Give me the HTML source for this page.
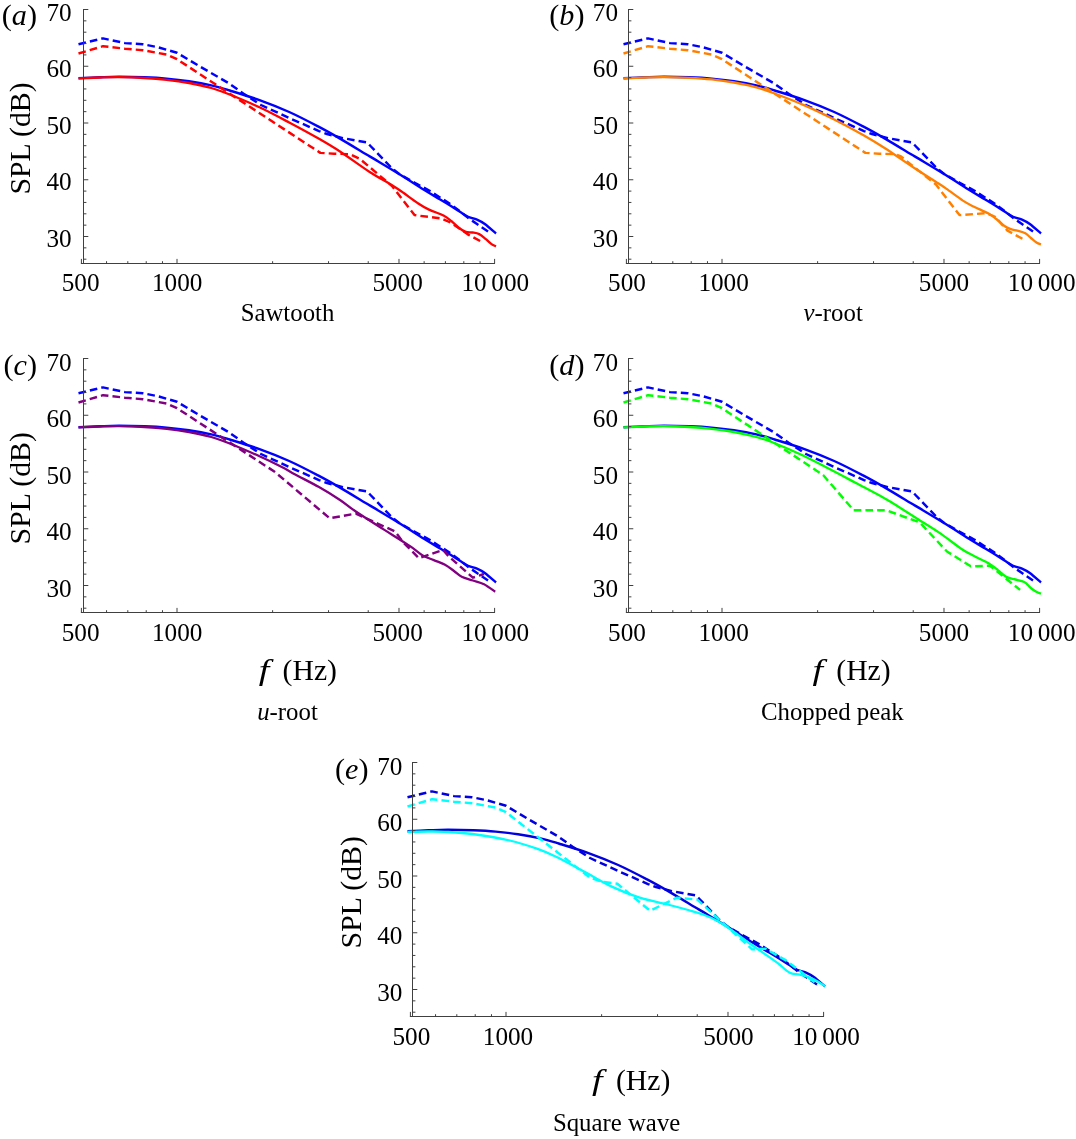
<!DOCTYPE html>
<html lang="en"><head><meta charset="utf-8"><title>SPL spectra</title>
<style>
html,body{margin:0;padding:0;background:#fff;}
svg{display:block;will-change:transform;}
text{font-family:"Liberation Serif","Times New Roman",Times,serif;fill:#000;}
.t{font-size:25.2px;}
.p{font-size:29.2px;}
.c{font-size:24.8px;}
</style></head><body>
<svg width="1076" height="1139" viewBox="0 0 1076 1139">
<rect width="1076" height="1139" fill="#fff"/>
<g transform="translate(0.00 0.00)">
<text class="t" x="71.60" y="21.00" text-anchor="end">70</text>
<text class="t" x="71.60" y="77.40" text-anchor="end">60</text>
<text class="t" x="71.60" y="133.90" text-anchor="end">50</text>
<text class="t" x="71.60" y="189.90" text-anchor="end">40</text>
<text class="t" x="71.60" y="246.80" text-anchor="end">30</text>
<text class="t" x="80.60" y="291.00" text-anchor="middle">500</text>
<text class="t" x="177.20" y="291.00" text-anchor="middle">1000</text>
<text class="t" x="397.60" y="291.00" text-anchor="middle">5000</text>
<text class="t" x="495.30" y="291.00" word-spacing="-1.6" text-anchor="middle">10 000</text>
<text class="p" transform="translate(37.00 25.20) scale(1.035 1)" text-anchor="end">(<tspan font-style="italic">a</tspan>)</text>
<text class="p" transform="translate(29.70 194.60) rotate(-90) scale(1.02 1)">SPL (dB)</text>
<path d="M78.50 44.20L103.00 38.40L125.00 43.10L142.90 44.30L157.00 47.00L177.00 52.80L200.00 66.50L229.70 83.80L244.60 94.40L261.00 105.00L289.20 118.00L319.00 131.10L327.00 134.00L342.80 138.10L367.00 142.50L370.00 145.50L392.00 168.30L399.50 174.30L414.30 182.50L429.20 190.60L448.00 202.50L456.90 209.00L468.10 217.90L477.00 224.00L489.30 232.40" stroke="#0000ff" stroke-width="2.45" stroke-dasharray="7.6 4.1" fill="none" stroke-linejoin="round"/>
<path d="M78.50 78.20C82.03 78.05 92.95 77.53 99.70 77.30C106.45 77.07 111.57 76.80 119.00 76.80C126.43 76.80 136.35 77.00 144.30 77.30C152.25 77.60 159.25 77.95 166.70 78.60C174.15 79.25 181.57 80.08 189.00 81.20C196.43 82.32 204.52 83.75 211.30 85.30C218.08 86.85 221.67 88.03 229.70 90.50C237.73 92.97 249.58 96.52 259.50 100.10C269.42 103.68 279.28 107.53 289.20 112.00C299.12 116.47 310.53 122.47 319.00 126.90C327.47 131.33 331.55 133.68 340.00 138.60C348.45 143.52 359.78 150.45 369.70 156.40C379.62 162.35 390.53 168.78 399.50 174.30C408.47 179.82 416.72 185.30 423.50 189.50C430.28 193.70 435.57 196.72 440.20 199.50C444.83 202.28 447.58 203.87 451.30 206.20C455.02 208.53 459.70 211.73 462.50 213.50C465.30 215.27 465.68 215.78 468.10 216.80C470.52 217.82 474.22 218.40 477.00 219.60C479.78 220.80 481.63 221.68 484.80 224.00C487.97 226.32 494.13 231.92 496.00 233.50" stroke="#0000ff" stroke-width="2.40" fill="none" stroke-linejoin="round"/>
<path d="M78.50 53.50L103.00 46.20L125.00 48.70L143.00 50.20L167.00 54.60L177.00 59.20L320.40 152.90L334.00 153.70L350.00 154.20L360.00 159.00L392.00 186.00L414.50 215.10L441.30 218.50L451.30 222.90L468.10 234.60L482.00 242.00" stroke="#ff0000" stroke-width="2.45" stroke-dasharray="7.6 4.1" fill="none" stroke-linejoin="round"/>
<path d="M78.50 78.30C82.03 78.17 92.95 77.68 99.70 77.50C106.45 77.32 111.57 77.12 119.00 77.20C126.43 77.28 136.35 77.57 144.30 78.00C152.25 78.43 159.25 78.97 166.70 79.80C174.15 80.63 181.57 81.63 189.00 83.00C196.43 84.37 204.52 86.08 211.30 88.00C218.08 89.92 221.67 91.28 229.70 94.50C237.73 97.72 249.58 102.63 259.50 107.30C269.42 111.97 279.28 117.25 289.20 122.50C299.12 127.75 310.53 133.97 319.00 138.80C327.47 143.63 331.55 145.97 340.00 151.50C348.45 157.03 361.37 166.58 369.70 172.00C378.03 177.42 384.75 180.80 390.00 184.00C395.25 187.20 396.55 188.00 401.20 191.20C405.85 194.40 413.27 200.13 417.90 203.20C422.53 206.27 424.73 207.55 429.00 209.60C433.27 211.65 439.78 213.60 443.50 215.50C447.22 217.40 448.70 218.92 451.30 221.00C453.90 223.08 456.68 226.18 459.10 228.00C461.52 229.82 463.57 231.15 465.80 231.90C468.03 232.65 470.27 232.13 472.50 232.50C474.73 232.87 476.97 233.00 479.20 234.10C481.43 235.20 483.85 237.43 485.90 239.10C487.95 240.77 489.82 242.88 491.50 244.10C493.18 245.32 495.25 246.02 496.00 246.40" stroke="#ff0000" stroke-width="2.30" fill="none" stroke-linejoin="round"/>
<path d="M83.50 9.00V264.00" stroke="#404040" stroke-width="1.0" fill="none"/>
<path d="M80.90 263.50H495.00" stroke="#404040" stroke-width="1.0" fill="none"/>
<path d="M83.50 259.20h2.90M83.50 247.85h2.90M83.50 236.50h4.80M83.50 225.15h2.90M83.50 213.80h2.90M83.50 202.45h2.90M83.50 191.10h2.90M83.50 179.75h4.80M83.50 168.40h2.90M83.50 157.05h2.90M83.50 145.70h2.90M83.50 134.35h2.90M83.50 123.00h4.80M83.50 111.65h2.90M83.50 100.30h2.90M83.50 88.95h2.90M83.50 77.60h2.90M83.50 66.25h4.80M83.50 54.90h2.90M83.50 43.55h2.90M83.50 32.20h2.90M83.50 20.85h2.90M83.50 9.50h4.80M81.40 263.50v-4.60M106.55 263.50v-2.30M127.81 263.50v-2.30M146.23 263.50v-2.30M162.47 263.50v-2.30M177.01 263.50v-4.60M272.61 263.50v-2.30M328.54 263.50v-2.30M368.22 263.50v-2.30M398.99 263.50v-4.60M424.14 263.50v-2.30M445.40 263.50v-2.30M463.82 263.50v-2.30M480.07 263.50v-2.30M494.60 263.50v-4.60" stroke="#404040" stroke-width="1" fill="none"/>
</g>
<g transform="translate(545.00 0.00)">
<text class="t" x="73.00" y="21.00" text-anchor="end">70</text>
<text class="t" x="73.00" y="77.40" text-anchor="end">60</text>
<text class="t" x="73.00" y="133.90" text-anchor="end">50</text>
<text class="t" x="73.00" y="189.90" text-anchor="end">40</text>
<text class="t" x="73.00" y="246.80" text-anchor="end">30</text>
<text class="t" x="82.00" y="291.00" text-anchor="middle">500</text>
<text class="t" x="178.60" y="291.00" text-anchor="middle">1000</text>
<text class="t" x="399.00" y="291.00" text-anchor="middle">5000</text>
<text class="t" x="496.70" y="291.00" word-spacing="-1.6" text-anchor="middle">10 000</text>
<text class="p" transform="translate(39.50 25.20) scale(1.035 1)" text-anchor="end">(<tspan font-style="italic">b</tspan>)</text>
<path d="M78.50 44.20L103.00 38.40L125.00 43.10L142.90 44.30L157.00 47.00L177.00 52.80L200.00 66.50L229.70 83.80L244.60 94.40L261.00 105.00L289.20 118.00L319.00 131.10L327.00 134.00L342.80 138.10L367.00 142.50L370.00 145.50L392.00 168.30L399.50 174.30L414.30 182.50L429.20 190.60L448.00 202.50L456.90 209.00L468.10 217.90L477.00 224.00L489.30 232.40" stroke="#0000ff" stroke-width="2.45" stroke-dasharray="7.6 4.1" fill="none" stroke-linejoin="round"/>
<path d="M78.50 78.20C82.03 78.05 92.95 77.53 99.70 77.30C106.45 77.07 111.57 76.80 119.00 76.80C126.43 76.80 136.35 77.00 144.30 77.30C152.25 77.60 159.25 77.95 166.70 78.60C174.15 79.25 181.57 80.08 189.00 81.20C196.43 82.32 204.52 83.75 211.30 85.30C218.08 86.85 221.67 88.03 229.70 90.50C237.73 92.97 249.58 96.52 259.50 100.10C269.42 103.68 279.28 107.53 289.20 112.00C299.12 116.47 310.53 122.47 319.00 126.90C327.47 131.33 331.55 133.68 340.00 138.60C348.45 143.52 359.78 150.45 369.70 156.40C379.62 162.35 390.53 168.78 399.50 174.30C408.47 179.82 416.72 185.30 423.50 189.50C430.28 193.70 435.57 196.72 440.20 199.50C444.83 202.28 447.58 203.87 451.30 206.20C455.02 208.53 459.70 211.73 462.50 213.50C465.30 215.27 465.68 215.78 468.10 216.80C470.52 217.82 474.22 218.40 477.00 219.60C479.78 220.80 481.63 221.68 484.80 224.00C487.97 226.32 494.13 231.92 496.00 233.50" stroke="#0000ff" stroke-width="2.40" fill="none" stroke-linejoin="round"/>
<path d="M78.50 53.50L103.00 46.20L125.00 48.70L143.00 50.20L167.00 54.60L177.00 59.20L320.40 152.90L334.00 153.70L350.00 154.20L356.00 156.50L391.00 184.50L414.50 215.10L441.30 213.20L450.20 216.80L462.50 230.70L478.10 239.10" stroke="#ff8000" stroke-width="2.45" stroke-dasharray="7.6 4.1" fill="none" stroke-linejoin="round"/>
<path d="M78.50 78.30C82.03 78.17 92.95 77.70 99.70 77.50C106.45 77.30 111.57 77.05 119.00 77.10C126.43 77.15 136.35 77.42 144.30 77.80C152.25 78.18 159.25 78.62 166.70 79.40C174.15 80.18 181.57 81.18 189.00 82.50C196.43 83.82 204.52 85.47 211.30 87.30C218.08 89.13 221.67 90.48 229.70 93.50C237.73 96.52 249.58 101.07 259.50 105.40C269.42 109.73 279.28 114.48 289.20 119.50C299.12 124.52 310.53 130.70 319.00 135.50C327.47 140.30 331.55 142.83 340.00 148.30C348.45 153.77 361.37 162.80 369.70 168.30C378.03 173.80 384.75 177.92 390.00 181.30C395.25 184.68 396.55 185.38 401.20 188.60C405.85 191.82 413.27 197.57 417.90 200.60C422.53 203.63 424.73 204.65 429.00 206.80C433.27 208.95 439.78 211.47 443.50 213.50C447.22 215.53 448.70 216.97 451.30 219.00C453.90 221.03 456.68 224.02 459.10 225.70C461.52 227.38 463.57 228.27 465.80 229.10C468.03 229.93 470.08 230.00 472.50 230.70C474.92 231.40 478.07 232.08 480.30 233.30C482.53 234.52 484.03 236.47 485.90 238.00C487.77 239.53 489.82 241.42 491.50 242.50C493.18 243.58 495.25 244.17 496.00 244.50" stroke="#ff8000" stroke-width="2.30" fill="none" stroke-linejoin="round"/>
<path d="M83.50 9.00V264.00" stroke="#404040" stroke-width="1.0" fill="none"/>
<path d="M80.90 263.50H495.00" stroke="#404040" stroke-width="1.0" fill="none"/>
<path d="M83.50 259.20h2.90M83.50 247.85h2.90M83.50 236.50h4.80M83.50 225.15h2.90M83.50 213.80h2.90M83.50 202.45h2.90M83.50 191.10h2.90M83.50 179.75h4.80M83.50 168.40h2.90M83.50 157.05h2.90M83.50 145.70h2.90M83.50 134.35h2.90M83.50 123.00h4.80M83.50 111.65h2.90M83.50 100.30h2.90M83.50 88.95h2.90M83.50 77.60h2.90M83.50 66.25h4.80M83.50 54.90h2.90M83.50 43.55h2.90M83.50 32.20h2.90M83.50 20.85h2.90M83.50 9.50h4.80M81.40 263.50v-4.60M106.55 263.50v-2.30M127.81 263.50v-2.30M146.23 263.50v-2.30M162.47 263.50v-2.30M177.01 263.50v-4.60M272.61 263.50v-2.30M328.54 263.50v-2.30M368.22 263.50v-2.30M398.99 263.50v-4.60M424.14 263.50v-2.30M445.40 263.50v-2.30M463.82 263.50v-2.30M480.07 263.50v-2.30M494.60 263.50v-4.60" stroke="#404040" stroke-width="1" fill="none"/>
</g>
<g transform="translate(0.00 349.00)">
<text class="t" x="71.60" y="21.80" text-anchor="end">70</text>
<text class="t" x="71.60" y="78.20" text-anchor="end">60</text>
<text class="t" x="71.60" y="134.70" text-anchor="end">50</text>
<text class="t" x="71.60" y="190.70" text-anchor="end">40</text>
<text class="t" x="71.60" y="247.60" text-anchor="end">30</text>
<text class="t" x="80.60" y="291.80" text-anchor="middle">500</text>
<text class="t" x="177.20" y="291.80" text-anchor="middle">1000</text>
<text class="t" x="397.60" y="291.80" text-anchor="middle">5000</text>
<text class="t" x="495.30" y="291.80" word-spacing="-1.6" text-anchor="middle">10 000</text>
<text class="p" transform="translate(37.00 26.00) scale(1.035 1)" text-anchor="end">(<tspan font-style="italic">c</tspan>)</text>
<text class="p" transform="translate(29.70 195.40) rotate(-90) scale(1.02 1)">SPL (dB)</text>
<path d="M78.50 44.20L103.00 38.40L125.00 43.10L142.90 44.30L157.00 47.00L177.00 52.80L200.00 66.50L229.70 83.80L244.60 94.40L261.00 105.00L289.20 118.00L319.00 131.10L327.00 134.00L342.80 138.10L367.00 142.50L370.00 145.50L392.00 168.30L399.50 174.30L414.30 182.50L429.20 190.60L448.00 202.50L456.90 209.00L468.10 217.90L477.00 224.00L489.30 232.40" stroke="#0000ff" stroke-width="2.45" stroke-dasharray="7.6 4.1" fill="none" stroke-linejoin="round"/>
<path d="M78.50 78.20C82.03 78.05 92.95 77.53 99.70 77.30C106.45 77.07 111.57 76.80 119.00 76.80C126.43 76.80 136.35 77.00 144.30 77.30C152.25 77.60 159.25 77.95 166.70 78.60C174.15 79.25 181.57 80.08 189.00 81.20C196.43 82.32 204.52 83.75 211.30 85.30C218.08 86.85 221.67 88.03 229.70 90.50C237.73 92.97 249.58 96.52 259.50 100.10C269.42 103.68 279.28 107.53 289.20 112.00C299.12 116.47 310.53 122.47 319.00 126.90C327.47 131.33 331.55 133.68 340.00 138.60C348.45 143.52 359.78 150.45 369.70 156.40C379.62 162.35 390.53 168.78 399.50 174.30C408.47 179.82 416.72 185.30 423.50 189.50C430.28 193.70 435.57 196.72 440.20 199.50C444.83 202.28 447.58 203.87 451.30 206.20C455.02 208.53 459.70 211.73 462.50 213.50C465.30 215.27 465.68 215.78 468.10 216.80C470.52 217.82 474.22 218.40 477.00 219.60C479.78 220.80 481.63 221.68 484.80 224.00C487.97 226.32 494.13 231.92 496.00 233.50" stroke="#0000ff" stroke-width="2.40" fill="none" stroke-linejoin="round"/>
<path d="M78.50 53.50L103.00 46.20L125.00 48.70L143.00 50.20L167.00 54.60L177.00 59.20L275.00 123.00L329.70 169.30L355.80 164.60L378.10 174.80L394.80 182.30L404.10 194.30L419.00 209.20L443.10 200.90L448.70 207.40L472.90 228.70L484.00 225.00" stroke="#800080" stroke-width="2.45" stroke-dasharray="7.6 4.1" fill="none" stroke-linejoin="round"/>
<path d="M78.50 78.30C82.03 78.17 92.95 77.68 99.70 77.50C106.45 77.32 111.57 77.12 119.00 77.20C126.43 77.28 136.35 77.57 144.30 78.00C152.25 78.43 159.25 78.97 166.70 79.80C174.15 80.63 181.57 81.63 189.00 83.00C196.43 84.37 204.52 86.08 211.30 88.00C218.08 89.92 221.67 91.28 229.70 94.50C237.73 97.72 250.82 103.38 259.50 107.30C268.18 111.22 275.85 114.97 281.80 118.00C287.75 121.03 289.00 122.15 295.20 125.50C301.40 128.85 311.53 133.85 319.00 138.10C326.47 142.35 333.87 146.93 340.00 151.00C346.13 155.07 348.53 157.60 355.80 162.50C363.07 167.40 376.48 175.87 383.60 180.40C390.72 184.93 393.85 186.75 398.50 189.70C403.15 192.65 407.47 195.32 411.50 198.10C415.53 200.88 418.98 204.23 422.70 206.40C426.42 208.57 430.08 209.55 433.80 211.10C437.52 212.65 441.58 213.85 445.00 215.70C448.42 217.55 451.52 220.18 454.30 222.20C457.08 224.22 458.60 226.25 461.70 227.80C464.80 229.35 469.18 230.27 472.90 231.50C476.62 232.73 480.28 233.33 484.00 235.20C487.72 237.07 493.33 241.45 495.20 242.70" stroke="#800080" stroke-width="2.30" fill="none" stroke-linejoin="round"/>
<path d="M83.50 9.00V264.00" stroke="#404040" stroke-width="1.0" fill="none"/>
<path d="M80.90 263.50H495.00" stroke="#404040" stroke-width="1.0" fill="none"/>
<path d="M83.50 259.20h2.90M83.50 247.85h2.90M83.50 236.50h4.80M83.50 225.15h2.90M83.50 213.80h2.90M83.50 202.45h2.90M83.50 191.10h2.90M83.50 179.75h4.80M83.50 168.40h2.90M83.50 157.05h2.90M83.50 145.70h2.90M83.50 134.35h2.90M83.50 123.00h4.80M83.50 111.65h2.90M83.50 100.30h2.90M83.50 88.95h2.90M83.50 77.60h2.90M83.50 66.25h4.80M83.50 54.90h2.90M83.50 43.55h2.90M83.50 32.20h2.90M83.50 20.85h2.90M83.50 9.50h4.80M81.40 263.50v-4.60M106.55 263.50v-2.30M127.81 263.50v-2.30M146.23 263.50v-2.30M162.47 263.50v-2.30M177.01 263.50v-4.60M272.61 263.50v-2.30M328.54 263.50v-2.30M368.22 263.50v-2.30M398.99 263.50v-4.60M424.14 263.50v-2.30M445.40 263.50v-2.30M463.82 263.50v-2.30M480.07 263.50v-2.30M494.60 263.50v-4.60" stroke="#404040" stroke-width="1" fill="none"/>
</g>
<g transform="translate(545.00 349.00)">
<text class="t" x="73.00" y="21.80" text-anchor="end">70</text>
<text class="t" x="73.00" y="78.20" text-anchor="end">60</text>
<text class="t" x="73.00" y="134.70" text-anchor="end">50</text>
<text class="t" x="73.00" y="190.70" text-anchor="end">40</text>
<text class="t" x="73.00" y="247.60" text-anchor="end">30</text>
<text class="t" x="82.00" y="291.80" text-anchor="middle">500</text>
<text class="t" x="178.60" y="291.80" text-anchor="middle">1000</text>
<text class="t" x="399.00" y="291.80" text-anchor="middle">5000</text>
<text class="t" x="496.70" y="291.80" word-spacing="-1.6" text-anchor="middle">10 000</text>
<text class="p" transform="translate(39.50 26.00) scale(1.035 1)" text-anchor="end">(<tspan font-style="italic">d</tspan>)</text>
<path d="M78.50 44.20L103.00 38.40L125.00 43.10L142.90 44.30L157.00 47.00L177.00 52.80L200.00 66.50L229.70 83.80L244.60 94.40L261.00 105.00L289.20 118.00L319.00 131.10L327.00 134.00L342.80 138.10L367.00 142.50L370.00 145.50L392.00 168.30L399.50 174.30L414.30 182.50L429.20 190.60L448.00 202.50L456.90 209.00L468.10 217.90L477.00 224.00L489.30 232.40" stroke="#0000ff" stroke-width="2.45" stroke-dasharray="7.6 4.1" fill="none" stroke-linejoin="round"/>
<path d="M78.50 78.20C82.03 78.05 92.95 77.53 99.70 77.30C106.45 77.07 111.57 76.80 119.00 76.80C126.43 76.80 136.35 77.00 144.30 77.30C152.25 77.60 159.25 77.95 166.70 78.60C174.15 79.25 181.57 80.08 189.00 81.20C196.43 82.32 204.52 83.75 211.30 85.30C218.08 86.85 221.67 88.03 229.70 90.50C237.73 92.97 249.58 96.52 259.50 100.10C269.42 103.68 279.28 107.53 289.20 112.00C299.12 116.47 310.53 122.47 319.00 126.90C327.47 131.33 331.55 133.68 340.00 138.60C348.45 143.52 359.78 150.45 369.70 156.40C379.62 162.35 390.53 168.78 399.50 174.30C408.47 179.82 416.72 185.30 423.50 189.50C430.28 193.70 435.57 196.72 440.20 199.50C444.83 202.28 447.58 203.87 451.30 206.20C455.02 208.53 459.70 211.73 462.50 213.50C465.30 215.27 465.68 215.78 468.10 216.80C470.52 217.82 474.22 218.40 477.00 219.60C479.78 220.80 481.63 221.68 484.80 224.00C487.97 226.32 494.13 231.92 496.00 233.50" stroke="#0000ff" stroke-width="2.40" fill="none" stroke-linejoin="round"/>
<path d="M78.50 53.50L103.00 46.20L125.00 48.70L143.00 50.20L167.00 54.60L177.00 59.20L278.10 126.00L308.70 161.30L341.30 161.30L374.70 173.40L402.00 202.50L425.80 217.30L444.90 216.70L475.10 240.90" stroke="#00ff00" stroke-width="2.45" stroke-dasharray="7.6 4.1" fill="none" stroke-linejoin="round"/>
<path d="M78.50 78.30C82.03 78.17 92.95 77.70 99.70 77.50C106.45 77.30 111.57 77.02 119.00 77.10C126.43 77.18 136.35 77.55 144.30 78.00C152.25 78.45 159.25 78.97 166.70 79.80C174.15 80.63 181.57 81.63 189.00 83.00C196.43 84.37 204.82 86.25 211.30 88.00C217.78 89.75 220.48 90.58 227.90 93.50C235.32 96.42 246.52 101.17 255.80 105.50C265.08 109.83 274.32 114.70 283.60 119.50C292.88 124.30 302.20 129.35 311.50 134.30C320.80 139.25 332.98 145.65 339.40 149.20C345.82 152.75 344.52 152.18 350.00 155.60C355.48 159.02 364.87 164.98 372.30 169.70C379.73 174.42 387.17 178.82 394.60 183.90C402.03 188.98 411.00 196.27 416.90 200.20C422.80 204.13 425.50 205.13 430.00 207.50C434.50 209.87 440.03 212.08 443.90 214.40C447.77 216.72 450.40 219.23 453.20 221.40C456.00 223.57 458.07 225.93 460.70 227.40C463.33 228.87 465.90 229.27 469.00 230.20C472.10 231.13 476.50 231.53 479.30 233.00C482.10 234.47 483.80 237.37 485.80 239.00C487.80 240.63 489.60 241.87 491.30 242.80C493.00 243.73 495.22 244.30 496.00 244.60" stroke="#00ff00" stroke-width="2.30" fill="none" stroke-linejoin="round"/>
<path d="M83.50 9.00V264.00" stroke="#404040" stroke-width="1.0" fill="none"/>
<path d="M80.90 263.50H495.00" stroke="#404040" stroke-width="1.0" fill="none"/>
<path d="M83.50 259.20h2.90M83.50 247.85h2.90M83.50 236.50h4.80M83.50 225.15h2.90M83.50 213.80h2.90M83.50 202.45h2.90M83.50 191.10h2.90M83.50 179.75h4.80M83.50 168.40h2.90M83.50 157.05h2.90M83.50 145.70h2.90M83.50 134.35h2.90M83.50 123.00h4.80M83.50 111.65h2.90M83.50 100.30h2.90M83.50 88.95h2.90M83.50 77.60h2.90M83.50 66.25h4.80M83.50 54.90h2.90M83.50 43.55h2.90M83.50 32.20h2.90M83.50 20.85h2.90M83.50 9.50h4.80M81.40 263.50v-4.60M106.55 263.50v-2.30M127.81 263.50v-2.30M146.23 263.50v-2.30M162.47 263.50v-2.30M177.01 263.50v-4.60M272.61 263.50v-2.30M328.54 263.50v-2.30M368.22 263.50v-2.30M398.99 263.50v-4.60M424.14 263.50v-2.30M445.40 263.50v-2.30M463.82 263.50v-2.30M480.07 263.50v-2.30M494.60 263.50v-4.60" stroke="#404040" stroke-width="1" fill="none"/>
</g>
<g transform="translate(329.00 753.00)">
<text class="t" x="73.40" y="21.80" text-anchor="end">70</text>
<text class="t" x="73.40" y="78.20" text-anchor="end">60</text>
<text class="t" x="73.40" y="134.70" text-anchor="end">50</text>
<text class="t" x="73.40" y="190.70" text-anchor="end">40</text>
<text class="t" x="73.40" y="247.60" text-anchor="end">30</text>
<text class="t" x="82.40" y="291.80" text-anchor="middle">500</text>
<text class="t" x="179.00" y="291.80" text-anchor="middle">1000</text>
<text class="t" x="399.40" y="291.80" text-anchor="middle">5000</text>
<text class="t" x="497.10" y="291.80" word-spacing="-1.6" text-anchor="middle">10 000</text>
<text class="p" transform="translate(39.50 26.00) scale(1.035 1)" text-anchor="end">(<tspan font-style="italic">e</tspan>)</text>
<text class="p" transform="translate(31.50 195.40) rotate(-90) scale(1.02 1)">SPL (dB)</text>
<path d="M78.50 44.20L103.00 38.40L125.00 43.10L142.90 44.30L157.00 47.00L177.00 52.80L200.00 66.50L229.70 83.80L244.60 94.40L261.00 105.00L289.20 118.00L319.00 131.10L327.00 134.00L342.80 138.10L367.00 142.50L370.00 145.50L392.00 168.30L399.50 174.30L414.30 182.50L429.20 190.60L448.00 202.50L456.90 209.00L468.10 217.90L477.00 224.00L489.30 232.40" stroke="#0000e0" stroke-width="2.45" stroke-dasharray="7.6 4.1" fill="none" stroke-linejoin="round"/>
<path d="M78.50 78.20C82.03 78.05 92.95 77.53 99.70 77.30C106.45 77.07 111.57 76.80 119.00 76.80C126.43 76.80 136.35 77.00 144.30 77.30C152.25 77.60 159.25 77.95 166.70 78.60C174.15 79.25 181.57 80.08 189.00 81.20C196.43 82.32 204.52 83.75 211.30 85.30C218.08 86.85 221.67 88.03 229.70 90.50C237.73 92.97 249.58 96.52 259.50 100.10C269.42 103.68 279.28 107.53 289.20 112.00C299.12 116.47 310.53 122.47 319.00 126.90C327.47 131.33 331.55 133.68 340.00 138.60C348.45 143.52 359.78 150.45 369.70 156.40C379.62 162.35 390.53 168.78 399.50 174.30C408.47 179.82 416.72 185.30 423.50 189.50C430.28 193.70 435.57 196.72 440.20 199.50C444.83 202.28 447.58 203.87 451.30 206.20C455.02 208.53 459.70 211.73 462.50 213.50C465.30 215.27 465.68 215.78 468.10 216.80C470.52 217.82 474.22 218.40 477.00 219.60C479.78 220.80 481.63 221.68 484.80 224.00C487.97 226.32 494.13 231.92 496.00 233.50" stroke="#0000e0" stroke-width="2.40" fill="none" stroke-linejoin="round"/>
<path d="M78.50 53.50L103.00 46.20L125.00 48.70L143.00 50.20L167.00 54.60L177.00 59.20L260.50 124.30L273.50 128.90L288.40 130.80L321.00 157.70L347.90 144.70L368.30 146.60L423.10 196.40L436.50 195.70L457.30 207.60L489.00 232.00" stroke="#00ffff" stroke-width="2.45" stroke-dasharray="7.6 4.1" fill="none" stroke-linejoin="round"/>
<path d="M78.50 78.80C81.92 78.75 92.80 78.50 99.00 78.50C105.20 78.50 108.28 78.38 115.70 78.80C123.12 79.22 132.67 79.55 143.50 81.00C154.33 82.45 169.85 85.02 180.70 87.50C191.55 89.98 200.87 93.18 208.60 95.90C216.33 98.62 219.37 100.03 227.10 103.80C234.83 107.57 245.72 113.53 255.00 118.50C264.28 123.47 273.52 129.23 282.80 133.60C292.08 137.97 301.40 141.72 310.70 144.70C320.00 147.68 330.52 149.45 338.60 151.50C346.68 153.55 353.28 155.33 359.20 157.00C365.12 158.67 369.15 159.63 374.10 161.50C379.05 163.37 383.95 165.47 388.90 168.20C393.85 170.93 398.83 174.43 403.80 177.90C408.77 181.37 413.75 185.42 418.70 189.00C423.65 192.58 428.55 195.93 433.50 199.40C438.45 202.87 443.93 206.45 448.40 209.80C452.87 213.15 456.58 217.52 460.30 219.50C464.02 221.48 467.23 220.83 470.70 221.70C474.17 222.57 477.87 223.45 481.10 224.70C484.33 225.95 487.62 227.78 490.10 229.20C492.58 230.62 495.02 232.53 496.00 233.20" stroke="#00ffff" stroke-width="2.30" fill="none" stroke-linejoin="round"/>
<path d="M83.50 9.00V264.00" stroke="#404040" stroke-width="1.0" fill="none"/>
<path d="M80.90 263.50H495.00" stroke="#404040" stroke-width="1.0" fill="none"/>
<path d="M83.50 259.20h2.90M83.50 247.85h2.90M83.50 236.50h4.80M83.50 225.15h2.90M83.50 213.80h2.90M83.50 202.45h2.90M83.50 191.10h2.90M83.50 179.75h4.80M83.50 168.40h2.90M83.50 157.05h2.90M83.50 145.70h2.90M83.50 134.35h2.90M83.50 123.00h4.80M83.50 111.65h2.90M83.50 100.30h2.90M83.50 88.95h2.90M83.50 77.60h2.90M83.50 66.25h4.80M83.50 54.90h2.90M83.50 43.55h2.90M83.50 32.20h2.90M83.50 20.85h2.90M83.50 9.50h4.80M81.40 263.50v-4.60M106.55 263.50v-2.30M127.81 263.50v-2.30M146.23 263.50v-2.30M162.47 263.50v-2.30M177.01 263.50v-4.60M272.61 263.50v-2.30M328.54 263.50v-2.30M368.22 263.50v-2.30M398.99 263.50v-4.60M424.14 263.50v-2.30M445.40 263.50v-2.30M463.82 263.50v-2.30M480.07 263.50v-2.30M494.60 263.50v-4.60" stroke="#404040" stroke-width="1" fill="none"/>
</g>
<text class="c" x="287.5" y="321.1" text-anchor="middle">Sawtooth</text>
<text class="c" x="833.2" y="321.1" text-anchor="middle"><tspan font-style="italic">v</tspan>-root</text>
<text class="p" font-style="italic" transform="translate(258.7 679.5) scale(1.3 1)">f</text><text class="p" transform="translate(282.6 679.5) scale(1.017 1)">(Hz)</text>
<text class="c" x="287.5" y="720.4" text-anchor="middle"><tspan font-style="italic">u</tspan>-root</text>
<text class="p" font-style="italic" transform="translate(812.4 679.5) scale(1.3 1)">f</text><text class="p" transform="translate(836.3 679.5) scale(1.017 1)">(Hz)</text>
<text class="c" x="832.3" y="720.4" text-anchor="middle">Chopped peak</text>
<text class="p" font-style="italic" transform="translate(592.0 1089.8) scale(1.3 1)">f</text><text class="p" transform="translate(615.9 1089.8) scale(1.017 1)">(Hz)</text>
<text class="c" x="616.6" y="1131" text-anchor="middle">Square wave</text>
</svg></body></html>
